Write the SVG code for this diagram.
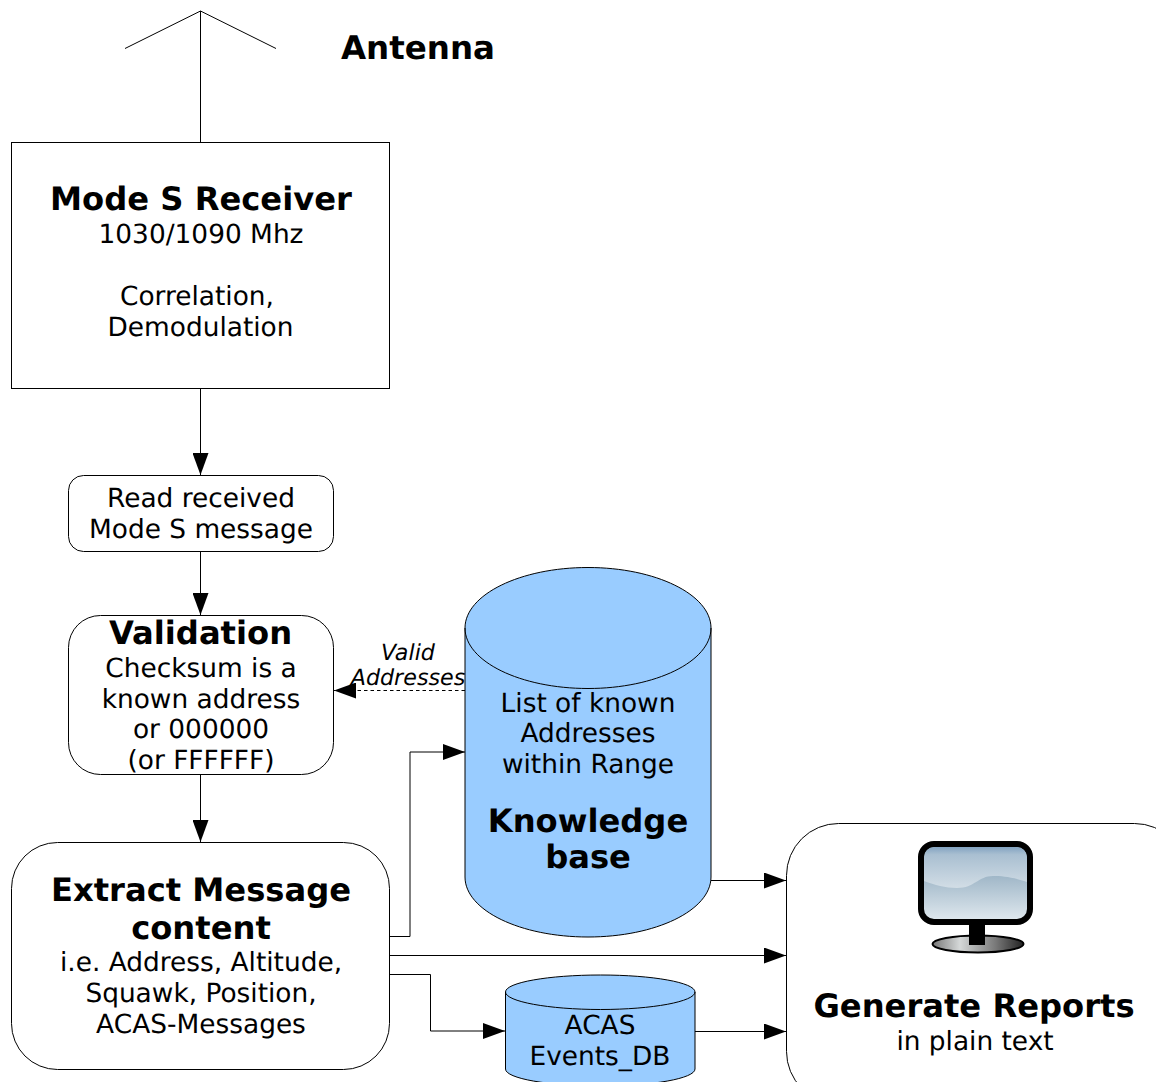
<svg xmlns="http://www.w3.org/2000/svg" width="1156" height="1082" viewBox="0 0 1156 1082">
<style>
text{font-family:"DejaVu Sans",sans-serif;text-anchor:middle;fill:#000;text-rendering:geometricPrecision}
.n{font-size:26.400px}
.b{font-size:32.200px;font-weight:bold}
.i{font-size:22.200px;font-style:italic}
.s{fill:#fff;stroke:#000;stroke-width:1}
.c{fill:#99ccff;stroke:#000;stroke-width:1}
.l{fill:none;stroke:#000;stroke-width:1}
</style>
<defs>
<marker id="a" markerUnits="userSpaceOnUse" markerWidth="22" markerHeight="16" refX="22" refY="8" orient="auto"><path d="M0 0L22 8L0 16Z" fill="#000"/></marker>
<linearGradient id="up" gradientUnits="userSpaceOnUse" x1="0" y1="846" x2="0" y2="889"><stop offset="0" stop-color="#7d9fbf"/><stop offset=".2" stop-color="#a9bfd1"/><stop offset="1" stop-color="#d3dee6"/></linearGradient>
<linearGradient id="wave" gradientUnits="userSpaceOnUse" x1="0" y1="876" x2="0" y2="920"><stop offset="0" stop-color="#a0b7c8"/><stop offset="1" stop-color="#dfe8ee"/></linearGradient>
<linearGradient id="base" x1="0" y1="0" x2="1" y2="0"><stop offset="0" stop-color="#777"/><stop offset=".3" stop-color="#d5d8d8"/><stop offset=".7" stop-color="#777"/><stop offset="1" stop-color="#222"/></linearGradient>
</defs>
<g id="antenna"><path class="l" d="M200.500 142V11M125 48.500L200.500 11L276 48.500"/><text class="b" style="font-size:32.500px" x="418" y="59">Antenna</text></g>
<g id="connectors">
<path class="l" d="M200.500 388V475" marker-end="url(#a)"/>
<path class="l" d="M200.500 551V615" marker-end="url(#a)"/>
<path class="l" d="M200.500 774V842" marker-end="url(#a)"/>
<path class="l" d="M465 690.500H334" stroke-dasharray="3.500 3" marker-end="url(#a)"/>
<path class="l" d="M390 936.500H410V752H465" marker-end="url(#a)"/>
<path class="l" d="M390 955.500H786" marker-end="url(#a)"/>
<path class="l" d="M390 974.500H430.500V1031H505" marker-end="url(#a)"/>
<path class="l" d="M711 880.500H786" marker-end="url(#a)"/>
<path class="l" d="M695 1031.500H786" marker-end="url(#a)"/>
<text class="i" x="408" y="660">Valid</text><text class="i" x="408" y="685">Addresses</text>
</g>
<g id="receiver"><rect class="s" x="11.500" y="142.500" width="378" height="246"/><text class="b" x="201" y="210">Mode S Receiver</text><text class="n" x="201" y="243">1030/1090 Mhz</text><text class="n" x="197" y="305">Correlation,</text><text class="n" x="200.500" y="336">Demodulation</text></g>
<g id="read"><rect class="s" x="68.500" y="475.500" width="265" height="76" rx="15"/><text class="n" x="201" y="507">Read received</text><text class="n" x="201" y="538">Mode S message</text></g>
<g id="validation"><rect class="s" x="68.500" y="615.500" width="265" height="159" rx="32"/><text class="b" x="200.500" y="644">Validation</text><text class="n" x="201" y="677">Checksum is a</text><text class="n" x="201" y="708">known address</text><text class="n" x="201" y="738">or 000000</text><text class="n" x="201" y="769">(or FFFFFF)</text></g>
<g id="extract"><rect class="s" x="11.500" y="842.500" width="378" height="227" rx="46"/><text class="b" x="201" y="901">Extract Message</text><text class="b" x="201" y="939">content</text><text class="n" x="201" y="971">i.e. Address, Altitude,</text><text class="n" x="201" y="1002">Squawk, Position,</text><text class="n" x="201" y="1033">ACAS-Messages</text></g>
<g id="knowledge"><path class="c" d="M465 628C465 594.500 520.500 567.500 588 567.500C655.500 567.500 711 594.500 711 628V877C711 910.500 655.500 937 588 937C520.500 937 465 910.500 465 877Z"/><path class="l" d="M465 628C465 661.500 520.500 688.500 588 688.500C655.500 688.500 711 661.500 711 628"/><text class="n" x="588" y="712">List of known</text><text class="n" x="588" y="742">Addresses</text><text class="n" x="588" y="773">within Range</text><text class="b" x="588" y="832">Knowledge</text><text class="b" x="588" y="868">base</text></g>
<g id="acas"><path class="c" d="M505.500 992C505.500 982.500 548.500 975 600.500 975C652.500 975 695 982.500 695 992V1069C695 1078.500 652.500 1086 600.500 1086C548.500 1086 505.500 1078.500 505.500 1069Z"/><path class="l" d="M505.500 992C505.500 1001.500 548.500 1009.500 600.500 1009.500C652.500 1009.500 695 1001.500 695 992"/><text class="n" x="600" y="1034">ACAS</text><text class="n" x="600" y="1065">Events_DB</text></g>
<g id="reports"><rect class="s" x="786.500" y="823.500" width="400" height="280" rx="52"/>
<ellipse cx="978" cy="944" rx="45.500" ry="8.500" fill="url(#base)" stroke="#000" stroke-width="2"/>
<rect x="969" y="920" width="16" height="25" fill="#000"/>
<rect x="921" y="844" width="109" height="78" rx="13" fill="url(#wave)" stroke="#000" stroke-width="6"/>
<path d="M924 881V860Q924 847 937 847H1014Q1027 847 1027 860V882C1012 877 1003 876 993 876C978 876 975 888 957 888C945 888 935 885 924 881Z" fill="url(#up)"/>
<text class="b" x="974" y="1017">Generate Reports</text><text class="n" x="975" y="1050">in plain text</text></g>
</svg>
